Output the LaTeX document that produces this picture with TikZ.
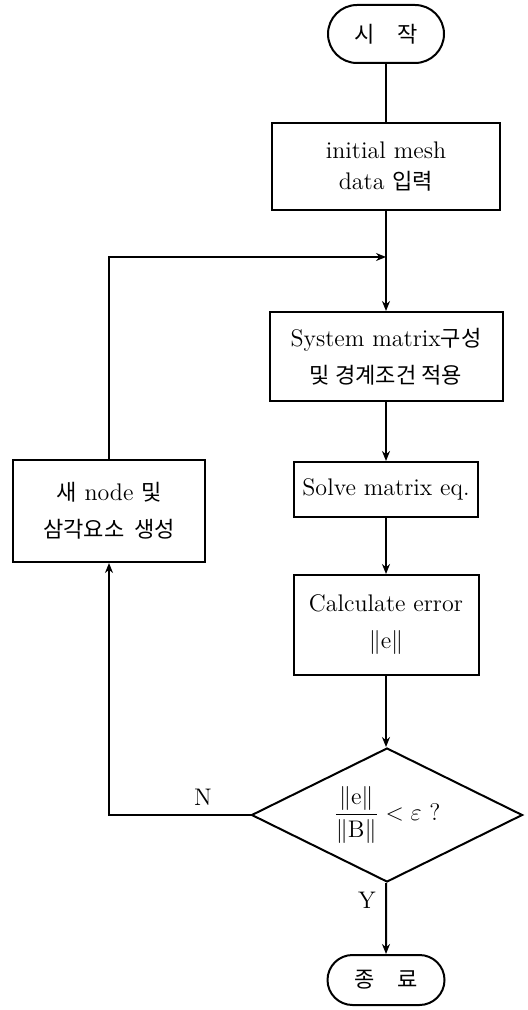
\documentclass[tikz,border=0pt]{standalone}
\usepackage{amsmath}
\usepackage{fontspec}
\newfontfamily\kr{Noto Sans CJK KR}[Scale=0.92]
\usetikzlibrary{arrows.meta, positioning, shapes.geometric, shapes.misc}

\begin{document}
\begin{tikzpicture}[
        x=0.5pt, y=-0.5pt,
        >={Stealth[length=5pt,width=4pt]},
        box/.style={rectangle, draw, line width=1pt, align=center, inner sep=2pt, font=\fontsize{12}{14.5}\selectfont},
        term/.style={rounded rectangle, draw, line width=1pt, inner sep=2pt, font=\fontsize{12}{14.5}\selectfont},
        dec/.style={diamond, aspect=2, draw, line width=1pt, inner sep=0pt, font=\fontsize{12}{14.5}\selectfont},
        e/.style={line width=1pt},
        lbl/.style={font=\fontsize{12}{14.5}\selectfont, inner sep=1pt}
    ]
        \useasboundingbox (0,0) rectangle (528,1010);

        \node[term, minimum width=62pt, minimum height=29pt] (start) at (386,34) {\kr 시\quad 작};
        \node[box, minimum width=114pt, minimum height=43.5pt] (init) at (386,166.5) {initial mesh\\[1pt] data {\kr 입력}};
        \coordinate (jn) at (386,257);
        \node[box, minimum width=116.5pt, minimum height=44.5pt] (sys) at (386,356.5) {System matrix{\kr 구성}\\[4pt] {\kr 및 경계조건 적용}};
        \node[box, minimum width=92pt, minimum height=27.5pt] (solve) at (386,489.5) {Solve matrix eq.};
        \node[box, minimum width=92.5pt, minimum height=50pt] (err) at (386,625) {Calculate error\\[4pt] $\|\mathrm{e}\|$};
        \node[dec, minimum width=135.5pt, minimum height=67pt] (chk) at (387,815) {$\dfrac{\|\mathrm{e}\|}{\|\mathrm{B}\|} < \varepsilon$ ?};
        \node[term, minimum width=62.5pt, minimum height=25pt] (stop) at (386,980) {\kr 종\quad 료};
        \node[box, minimum width=96pt, minimum height=51pt] (refine) at (109,511) {{\kr 새} node {\kr 및}\\[4pt] {\kr 삼각요소\ \ 생성}};

        \node[lbl] (nlbl) at (203,797) {N};
        \node[lbl] (ylbl) at (367,900) {Y};

        \draw[e] (start) -- (init);
        \draw[e] (init) -- (jn);
        \draw[e, ->] (refine.north) |- (jn);
        \draw[e, ->] (jn) -- (sys);
        \draw[e, ->] (sys) -- (solve);
        \draw[e, ->] (solve) -- (err);
        \draw[e, ->] (err) -- (err |- chk.north);
        \draw[e, ->] (chk.south -| stop) -- (stop);
        \draw[e, ->] (chk.west) -| (refine.south);
    \end{tikzpicture}
\end{document}
